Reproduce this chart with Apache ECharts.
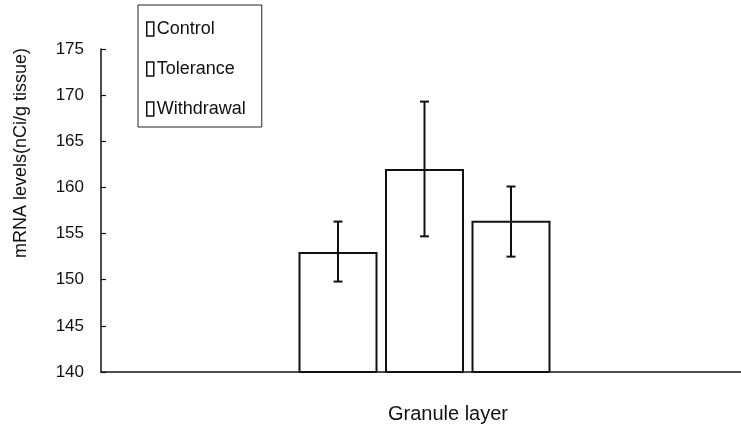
<!DOCTYPE html>
<html>
<head>
<meta charset="utf-8">
<script src="https://cdn.jsdelivr.net/npm/echarts@6/dist/echarts.min.js"></script>
<style>html,body{margin:0;padding:0;background:#fff}#c{width:741px;height:431px}</style>
</head>
<body>
<div id="c"></div>
<script>
const categories = ['Granule layer'];
const seriesNames = ['Control', 'Tolerance', 'Withdrawal'];
const means = [153.0, 162.0, 156.4];
const errLow = [149.8, 154.7, 152.5];
const errHigh = [156.3, 169.3, 160.1];
const yTicks = [140, 145, 150, 155, 160, 165, 170, 175];

const FONT = 'Liberation Sans, Arial, sans-serif';
const BAR_W = 79, BAR_GAP = 7.5;

const chart = echarts.init(document.getElementById('c'), null, {renderer: 'canvas'});

const barSeries = seriesNames.map((name, i) => ({
  name: name,
  type: 'bar',
  xAxisIndex: 1,
  yAxisIndex: 1,
  data: [means[i]],
  barWidth: BAR_W,
  barGap: (BAR_GAP / BAR_W * 100) + '%',
  itemStyle: {color: '#fff', borderColor: '#111', borderWidth: 2},
  silent: true
}));

const errSeries = seriesNames.map((name, i) => ({
  name: name + ' err',
  type: 'custom',
  xAxisIndex: 1,
  yAxisIndex: 1,
  data: [[0, errLow[i], errHigh[i]]],
  z: 10,
  silent: true,
  renderItem: function (params, api) {
    const off = (i - 1) * (BAR_W + BAR_GAP);
    const lo = api.coord([api.value(0), api.value(1)]);
    const hi = api.coord([api.value(0), api.value(2)]);
    const x = lo[0] + off;
    const cw = 4.5;
    const st = {stroke: '#111', lineWidth: 2, fill: null};
    return {
      type: 'group',
      children: [
        {type: 'line', shape: {x1: x, y1: lo[1], x2: x, y2: hi[1]}, style: st},
        {type: 'line', shape: {x1: x - cw, y1: lo[1], x2: x + cw, y2: lo[1]}, style: st},
        {type: 'line', shape: {x1: x - cw, y1: hi[1], x2: x + cw, y2: hi[1]}, style: st}
      ]
    };
  }
}));

const yBase = {
  type: 'value',
  min: yTicks[0],
  max: yTicks[yTicks.length - 1],
  interval: 5,
  splitLine: {show: false}
};

chart.setOption({
  animation: false,
  backgroundColor: '#fff',
  textStyle: {fontFamily: FONT},
  grid: [
    {left: 101, right: 0, top: 49, bottom: 59, containLabel: false},
    {left: 108, right: 0, top: 49, bottom: 59, containLabel: false}
  ],
  legend: {
    data: seriesNames,
    orient: 'vertical',
    left: 138,
    top: 5,
    padding: [15, 16, 9, 8],
    itemGap: 22,
    itemWidth: 7,
    itemHeight: 14,
    icon: 'rect',
    borderColor: '#222',
    borderWidth: 1,
    backgroundColor: '#fff',
    selectedMode: false,
    textStyle: {fontFamily: FONT, fontSize: 18, color: '#111', padding: [0, 0, 0, -2]},
    itemStyle: {color: '#fff', borderColor: '#111', borderWidth: 1.5}
  },
  xAxis: [{
    type: 'category',
    gridIndex: 0,
    data: categories,
    axisLine: {lineStyle: {color: '#111', width: 1.5}},
    axisTick: {show: false},
    axisLabel: {show: false},
    name: categories[0],
    nameLocation: 'middle',
    nameGap: 32,
    nameTextStyle: {fontFamily: FONT, fontSize: 20, color: '#111', padding: [0, 0, 0, 54]}
  }, {
    type: 'category',
    gridIndex: 1,
    data: categories,
    show: false
  }],
  yAxis: [Object.assign({}, yBase, {
    gridIndex: 0,
    axisLine: {show: true, lineStyle: {color: '#111', width: 1.5}},
    axisTick: {show: true, inside: true, length: 5, lineStyle: {color: '#111', width: 1.2}},
    axisLabel: {fontFamily: FONT, fontSize: 17, color: '#111', margin: 17}
  }), Object.assign({}, yBase, {gridIndex: 1, show: false})],
  graphic: [{
    type: 'text',
    left: 12,
    top: 48,
    rotation: Math.PI / 2,
    style: {text: 'mRNA levels(nCi/g tissue)', font: '18px ' + FONT, fill: '#111'}
  }],
  series: barSeries.concat(errSeries)
});
</script>
</body>
</html>
